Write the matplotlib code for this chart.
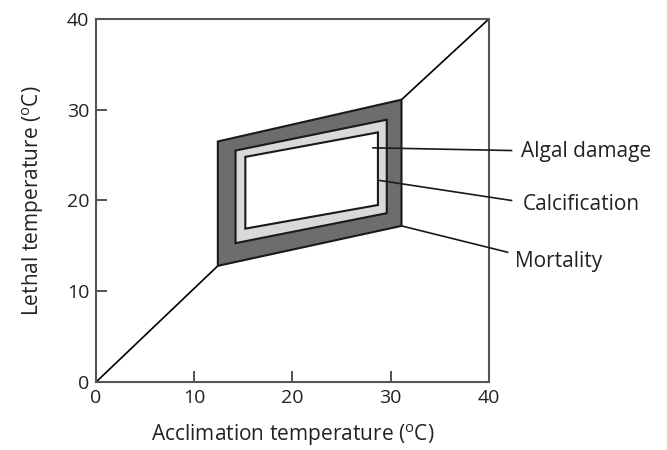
import matplotlib
matplotlib.use("Agg")
import matplotlib.pyplot as plt
from matplotlib.patches import Polygon

plt.rcParams['font.family'] = ['Open Sans', 'DejaVu Sans']
plt.rcParams['mathtext.fontset'] = 'custom'
plt.rcParams['mathtext.rm'] = 'Open Sans'

# Zone corners (acclimation, lethal): bottom-left, top-left, top-right, bottom-right
mortality_x = [12.4, 12.4, 31.1, 31.1]
mortality_y = [12.8, 26.5, 31.1, 17.2]
calcification_x = [14.2, 14.2, 29.6, 29.6]
calcification_y = [15.3, 25.5, 28.9, 18.6]
algal_x = [15.2, 15.2, 28.7, 28.7]
algal_y = [16.9, 24.8, 27.5, 19.5]

# diagonal outside the zones
diag_low_x = [0, 12.4]
diag_low_y = [0, 12.8]
diag_high_x = [31.1, 40]
diag_high_y = [31.1, 40]

# leader lines: start point on chart, end point near label
labels = ['Algal damage', 'Calcification', 'Mortality']
leader_start_x = [28.2, 28.9, 31.1]
leader_start_y = [25.8, 22.2, 17.2]
leader_end_x = [42.3, 42.3, 41.9]
leader_end_y = [25.5, 20.0, 14.3]
label_x = [43.3, 43.4, 42.7]
label_y = [24.8, 19.0, 12.7]

ticks = [0, 10, 20, 30, 40]

fig = plt.figure(figsize=(6.67, 4.5), dpi=100)
ax = fig.add_axes([0.144, 0.151, 0.589, 0.807])

ax.plot(diag_low_x, diag_low_y, color='black', lw=1.2)
ax.plot(diag_high_x, diag_high_y, color='black', lw=1.2)

for xs, ys, fc in [(mortality_x, mortality_y, '#6d6d6d'),
                   (calcification_x, calcification_y, '#d9d9d9'),
                   (algal_x, algal_y, 'white')]:
    ax.add_patch(Polygon(list(zip(xs, ys)), closed=True, facecolor=fc,
                         edgecolor='#1a1a1a', lw=1.5, zorder=3))

for i, name in enumerate(labels):
    ax.plot([leader_start_x[i], leader_end_x[i]], [leader_start_y[i], leader_end_y[i]],
            color='#1a1a1a', lw=1.2, clip_on=False, zorder=4)
    ax.text(label_x[i], label_y[i], name, fontsize=15, ha='left', va='baseline',
            color='#222222', clip_on=False)

ax.set_xlim(0, 40)
ax.set_ylim(0, 40)
ax.set_xticks(ticks)
ax.set_yticks(ticks)
ax.tick_params(direction='in', length=8, width=1.3, color='#444444',
               labelsize=14, pad=5, labelcolor='#222222')
for s in ax.spines.values():
    s.set_color('#555555')
    s.set_linewidth(1.5)

ax.set_xlabel(r'Acclimation temperature ($^{\rm o}$C)', fontsize=15, labelpad=11,
              color='#222222')
ax.set_ylabel(r'Lethal temperature ($^{\rm o}$C)', fontsize=15, labelpad=15,
              color='#222222')

fig.savefig('out.png', dpi=100, facecolor='white')
